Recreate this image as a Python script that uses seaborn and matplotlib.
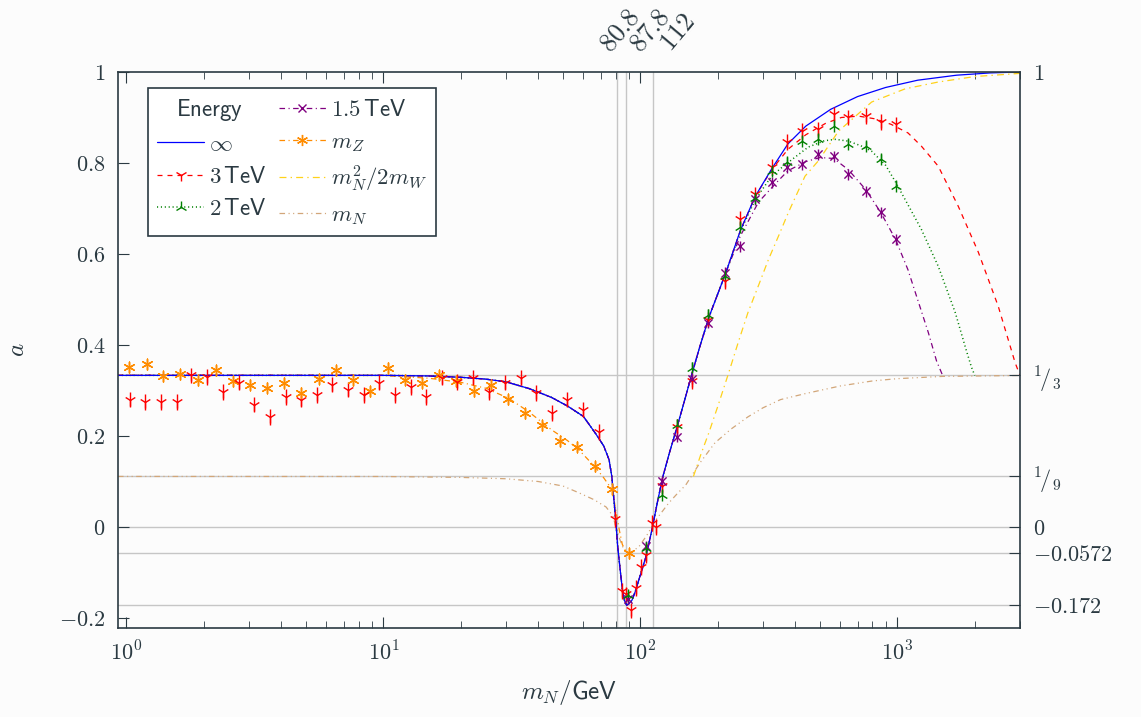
import matplotlib
matplotlib.use("Agg")
import matplotlib.pyplot as plt
import seaborn as sns
from matplotlib.lines import Line2D
from matplotlib.ticker import FixedLocator, FixedFormatter, NullLocator, LogLocator

# ---------------- data ----------------
# shared part of the theory curves (all energies coincide here)
x_common = [0.927, 10, 15, 20, 25, 30, 37, 45, 52, 60, 67, 72, 75.5, 77.4, 80.3, 81.5,
            82.4, 84, 85, 86.5, 88.4, 90, 92.7, 95.5, 98.5, 101.5, 105, 108, 111, 116,
            122.3, 130, 138.6, 148, 158, 170, 185, 215]
y_common = [0.3333, 0.3333, 0.332, 0.329, 0.325, 0.319, 0.304, 0.285, 0.266, 0.243,
            0.205, 0.178, 0.148, 0.111, 0.01, -0.04, -0.066, -0.11, -0.135, -0.16,
            -0.172, -0.169, -0.161, -0.142, -0.117, -0.093, -0.066, -0.035, -0.005,
            0.05, 0.111, 0.165, 0.218, 0.275, 0.333, 0.395, 0.462, 0.559]

# tails (energy specific)
x_inf_tail = [245, 280, 325, 375, 440, 550, 700, 900, 1200, 1700, 2300, 3000]
y_inf_tail = [0.652, 0.727, 0.788, 0.842, 0.881, 0.918, 0.946, 0.966, 0.982, 0.993, 0.998, 1.0]

x_3tev_tail = [245, 280, 325, 375, 440, 525, 605, 707, 820, 945, 1100, 1240, 1442,
               1725, 2065, 2469, 2872, 3000]
y_3tev_tail = [0.652, 0.727, 0.786, 0.83, 0.862, 0.887, 0.90, 0.903, 0.897, 0.885,
               0.866, 0.837, 0.793, 0.705, 0.604, 0.485, 0.361, 0.333]

x_2tev_tail = [245, 280, 325, 355, 400, 450, 520, 575, 645, 720, 794, 900, 984, 1100,
               1240, 1442, 1680, 1850, 1940, 2000]
y_2tev_tail = [0.65, 0.72, 0.772, 0.79, 0.813, 0.835, 0.849, 0.852, 0.848, 0.838,
               0.826, 0.795, 0.758, 0.708, 0.654, 0.573, 0.471, 0.39, 0.352, 0.333]

x_15tev_tail = [245, 288, 336, 375, 440, 500, 565, 645, 752, 860, 984, 1100, 1175,
                1320, 1420, 1500]
y_15tev_tail = [0.64, 0.714, 0.755, 0.783, 0.803, 0.812, 0.81, 0.785, 0.742, 0.692,
                0.632, 0.565, 0.515, 0.427, 0.365, 0.333]

x_mz = [0.927, 10, 15, 20, 25, 30.7, 36.8, 45, 52, 57.5, 66.6, 72, 77.8, 80.3, 83, 85,
        88, 90.3]
y_mz = [0.3333, 0.333, 0.327, 0.318, 0.305, 0.283, 0.253, 0.214, 0.19, 0.17, 0.132,
        0.108, 0.081, 0.035, -0.01, -0.038, -0.055, -0.058]

x_thr = [160.8, 172, 184.6, 200, 220.6, 240, 262, 290, 315, 345, 377, 437, 493, 590,
         794, 1072, 1442, 2000, 3000]
y_thr = [0.111, 0.16, 0.207, 0.265, 0.339, 0.405, 0.471, 0.535, 0.588, 0.64, 0.692,
         0.771, 0.805, 0.87, 0.934, 0.963, 0.978, 0.99, 0.997]

x_mn = [0.927, 10, 20, 30, 40, 50, 57.7, 66, 73.5, 78, 82.5, 85.5, 87.8, 92, 98.5, 106,
        114.6, 129, 140, 150, 170, 195, 225, 262, 300, 351, 437, 600, 800, 1000, 1500, 3000]
y_mn = [0.1111, 0.111, 0.109, 0.106, 0.1, 0.09, 0.075, 0.06, 0.044, 0.025, -0.022,
        -0.045, -0.057, -0.055, -0.044, -0.018, 0.015, 0.053, 0.075, 0.092, 0.14, 0.185,
        0.215, 0.242, 0.262, 0.28, 0.293, 0.31, 0.321, 0.326, 0.331, 0.333]

# simulated points
x_pts_3tev = [1.03, 1.18, 1.36, 1.57, 1.79, 2.06, 2.38, 2.74, 3.13, 3.63, 4.16, 4.79, 5.51,
              6.32, 7.27, 8.37, 9.64, 11.1, 12.8, 14.7, 16.9, 19.4, 22.3, 25.7, 29.6, 34.2,
              39.3, 45.2, 51.9, 59.8, 68.8, 79.3, 84.9, 87.8, 91.6, 96.0, 100.5, 105, 111,
              115, 121, 138.6, 158.6, 183, 213, 244, 279, 324, 371, 424, 493, 565, 645,
              752, 860, 984]
y_pts_3tev = [0.28, 0.275, 0.275, 0.275, 0.333, 0.33, 0.297, 0.317, 0.269, 0.242, 0.286,
              0.28, 0.29, 0.313, 0.302, 0.29, 0.317, 0.29, 0.308, 0.286, 0.328, 0.319,
              0.328, 0.297, 0.317, 0.328, 0.295, 0.251, 0.28, 0.258, 0.209, 0.018, -0.141,
              -0.148, -0.183, -0.134, -0.088, -0.062, 0.009, 0.0, 0.09, 0.22, 0.32, 0.456,
              0.54, 0.678, 0.731, 0.791, 0.846, 0.870, 0.874, 0.907, 0.90, 0.903, 0.89, 0.885]
err_3tev = 0.017

x_pts_2tev = [89.5, 105, 121, 138.6, 158.6, 183, 213, 244, 279, 324, 371, 424, 493, 565,
              645, 752, 860, 984]
y_pts_2tev = [-0.15, -0.046, 0.07, 0.225, 0.35, 0.467, 0.551, 0.659, 0.722, 0.782, 0.802,
              0.848, 0.852, 0.881, 0.841, 0.837, 0.808, 0.749]
err_2tev = 0.012

x_pts_15tev = [89.5, 105, 121, 138.6, 158.6, 183, 213, 244, 279, 324, 371, 424, 493, 565,
               645, 752, 860, 984]
y_pts_15tev = [-0.158, -0.042, 0.10, 0.198, 0.326, 0.449, 0.559, 0.617, 0.72, 0.758, 0.791,
               0.797, 0.819, 0.815, 0.775, 0.738, 0.692, 0.632]
err_15tev = 0.012

x_pts_mz = [1.025, 1.198, 1.39, 1.62, 1.9, 2.23, 2.6, 3.02, 3.52, 4.09, 4.79, 5.6, 6.55,
            7.63, 8.9, 10.4, 12.1, 14.1, 16.5, 19.2, 22.5, 26.2, 30.6, 35.6, 41.5, 48.5,
            56.7, 66.4, 77.5, 90.3]
y_pts_mz = [0.351, 0.358, 0.331, 0.336, 0.322, 0.344, 0.320, 0.313, 0.306, 0.317, 0.295,
            0.326, 0.344, 0.322, 0.298, 0.350, 0.324, 0.317, 0.333, 0.320, 0.298, 0.313,
            0.281, 0.250, 0.224, 0.188, 0.176, 0.133, 0.083, -0.058]
err_mz = 0.012

legend_labels = [r"$\mathsf{Energy}$", r"$\infty$", r"$3\,\mathsf{TeV}$",
                 r"$2\,\mathsf{TeV}$", r"$1.5\,\mathsf{TeV}$", r"$m_Z$",
                 r"$m_N^2/2m_W$", r"$m_N$"]

y_left_ticks = [-0.2, 0, 0.2, 0.4, 0.6, 0.8, 1.0]
y_left_labels = [r"$-0.2$", r"$0$", r"$0.2$", r"$0.4$", r"$0.6$", r"$0.8$", r"$1$"]
y_right_ticks = [1.0, 1 / 3, 1 / 9, 0.0, -0.0572, -0.172]
y_right_labels = [r"$1$", r"${}^{1}\!/{}_{3}$", r"${}^{1}\!/{}_{9}$", r"$0$",
                  r"$-0.0572$", r"$-0.172$"]
x_ticks = [1, 10, 100, 1000]
x_tick_labels = [r"$10^{0}$", r"$10^{1}$", r"$10^{2}$", r"$10^{3}$"]
x_top_ticks = [80.8, 87.8, 112]
x_top_labels = [r"$80.8$", r"$87.8$", r"$112$"]
x_top_label_shift = [-7, 14, 17]   # pixel nudges of the crowded rotated labels

# ---------------- style ----------------
sns.set_style("ticks")
ink = "#2b3a42"
bg = "#fcfcfc"
plt.rcParams.update({
    "font.family": ["DejaVu Sans"],
    "mathtext.fontset": "cm",
    "lines.scale_dashes": False,
    "text.color": ink, "axes.labelcolor": ink, "xtick.color": ink,
    "ytick.color": ink, "axes.edgecolor": ink,
})

c_inf, c_3, c_2, c_15 = "#0000ff", "#ff0000", "#008000", "#800080"
c_mz, c_thr, c_mn = "#ff8c00", "#ffd21a", "#d2a679"
ls_3 = (0, (3.6, 3.6))
ls_2 = (0, (0.8, 2.0))
ls_15 = (0, (4, 2.5, 0.8, 2.5))
ls_mz = (0, (4, 2.5, 0.8, 2.5))
ls_thr = (0, (5, 3, 1, 3))
ls_mn = (0, (4, 2.5, 0.8, 2.5, 0.8, 2.5))

W, H = 1141, 717
fig = plt.figure(figsize=(W / 100, H / 100), dpi=100)
fig.patch.set_facecolor(bg)
L, R, T, B = 118, 1020, 72, 628
ax = fig.add_axes([L / W, 1 - B / H, (R - L) / W, (B - T) / H])
ax.set_facecolor(bg)
ax.set_xscale("log")
ax.set_xlim(0.927, 3000)
ax.set_ylim(-0.222, 1.0)

grid_c = "#c6c6c6"
for v in x_top_ticks:
    ax.axvline(v, color=grid_c, lw=1.0, zorder=0.5)
for v in y_right_ticks[1:]:
    ax.axhline(v, color=grid_c, lw=1.0, zorder=0.5)


def curve(x, y, color, ls, lw=0.9, z=2):
    sns.lineplot(x=x, y=y, ax=ax, color=color, linestyle=ls, linewidth=lw,
                 estimator=None, sort=False, legend=False, zorder=z)


def points(x, y, err, color, marker, s, lw=1.0):
    ax.errorbar(x, y, yerr=err, fmt="none", ecolor=color, elinewidth=lw, capsize=0,
                zorder=4)
    sns.scatterplot(x=x, y=y, ax=ax, marker=marker, s=s, color=color, linewidth=lw,
                    legend=False, zorder=5)


curve(x_mn, y_mn, c_mn, ls_mn)
curve(x_thr, y_thr, c_thr, ls_thr)
curve(x_mz, y_mz, c_mz, ls_mz)
curve(x_common + x_15tev_tail, y_common + y_15tev_tail, c_15, ls_15)
curve(x_common + x_2tev_tail, y_common + y_2tev_tail, c_2, ls_2, lw=1.1)
curve(x_common + x_3tev_tail, y_common + y_3tev_tail, c_3, ls_3)
curve(x_common + x_inf_tail, y_common + y_inf_tail, c_inf, "-", z=2.5)

points(x_pts_mz, y_pts_mz, err_mz, c_mz, (6, 2, 0), 60)
points(x_pts_3tev, y_pts_3tev, err_3tev, c_3, "1", 75)
points(x_pts_15tev, y_pts_15tev, err_15tev, c_15, "x", 35)
points(x_pts_2tev, y_pts_2tev, err_2tev, c_2, "2", 75)

# ---------------- axes decoration ----------------
ax.xaxis.set_major_locator(FixedLocator(x_ticks))
ax.xaxis.set_major_formatter(FixedFormatter(x_tick_labels))
ax.xaxis.set_minor_locator(LogLocator(base=10, subs=(2, 3, 4, 5, 6, 7, 8, 9)))
ax.yaxis.set_major_locator(FixedLocator(y_left_ticks))
ax.yaxis.set_major_formatter(FixedFormatter(y_left_labels))
ax.yaxis.set_minor_locator(NullLocator())
ax.tick_params(which="both", direction="in", top=True, right=True, labelsize=16)
ax.tick_params(which="major", length=8, width=0.8)
ax.tick_params(which="minor", length=5, width=0.6)
ax.tick_params(axis="y", pad=9)
ax.tick_params(axis="x", pad=9)
for sp in ax.spines.values():
    sp.set_linewidth(1.2)
    sp.set_color(ink)

ax2 = ax.twinx()
ax2.set_ylim(ax.get_ylim())
ax2.yaxis.set_major_locator(FixedLocator(y_right_ticks))
ax2.yaxis.set_major_formatter(FixedFormatter(y_right_labels))
ax2.yaxis.set_minor_locator(NullLocator())
ax2.tick_params(direction="in", length=8, width=0.8, labelsize=16, pad=9)
for sp in ax2.spines.values():
    sp.set_visible(False)

# rotated labels of the extra top ticks
for v, lab, dx in zip(x_top_ticks, x_top_labels, x_top_label_shift):
    ax.annotate(lab, xy=(v, 1.0), xycoords=("data", "axes fraction"),
                xytext=(dx, 19), textcoords="offset pixels", rotation=50,
                rotation_mode="anchor", ha="left", va="baseline", fontsize=19,
                annotation_clip=False)

ax.set_xlabel(r"$m_N/\mathsf{GeV}$", fontsize=18)
ax.xaxis.set_label_coords(0.5, -0.09)
ax.set_ylabel(r"$a$", fontsize=18)
ax.yaxis.set_label_coords(-0.099, 0.5)

# ---------------- legend ----------------
handles = [
    Line2D([], [], linestyle="none"),
    Line2D([], [], color=c_inf, lw=0.9),
    Line2D([], [], color=c_3, lw=0.9, linestyle=ls_3, marker="1", ms=9, mew=1),
    Line2D([], [], color=c_2, lw=1.1, linestyle=ls_2, marker="2", ms=9, mew=1),
    Line2D([], [], color=c_15, lw=0.9, linestyle=ls_15, marker="x", ms=6, mew=1),
    Line2D([], [], color=c_mz, lw=0.9, linestyle=ls_mz, marker=(6, 2, 0), ms=8, mew=1),
    Line2D([], [], color=c_thr, lw=0.9, linestyle=ls_thr),
    Line2D([], [], color=c_mn, lw=0.9, linestyle=ls_mn),
]
leg = ax.legend(handles, legend_labels, ncol=2, loc="upper left",
                bbox_to_anchor=(0.0333, 0.971), borderaxespad=0, fontsize=16.5,
                handlelength=2.05, handletextpad=0.22, columnspacing=0.1,
                labelspacing=0.4, borderpad=0.4, fancybox=False, framealpha=1,
                edgecolor=ink, facecolor="white")
leg.get_frame().set_linewidth(1.2)
leg.get_texts()[0].set_x(-33)
leg.set_zorder(10)

fig.savefig("out.png", dpi=100, facecolor=bg)
